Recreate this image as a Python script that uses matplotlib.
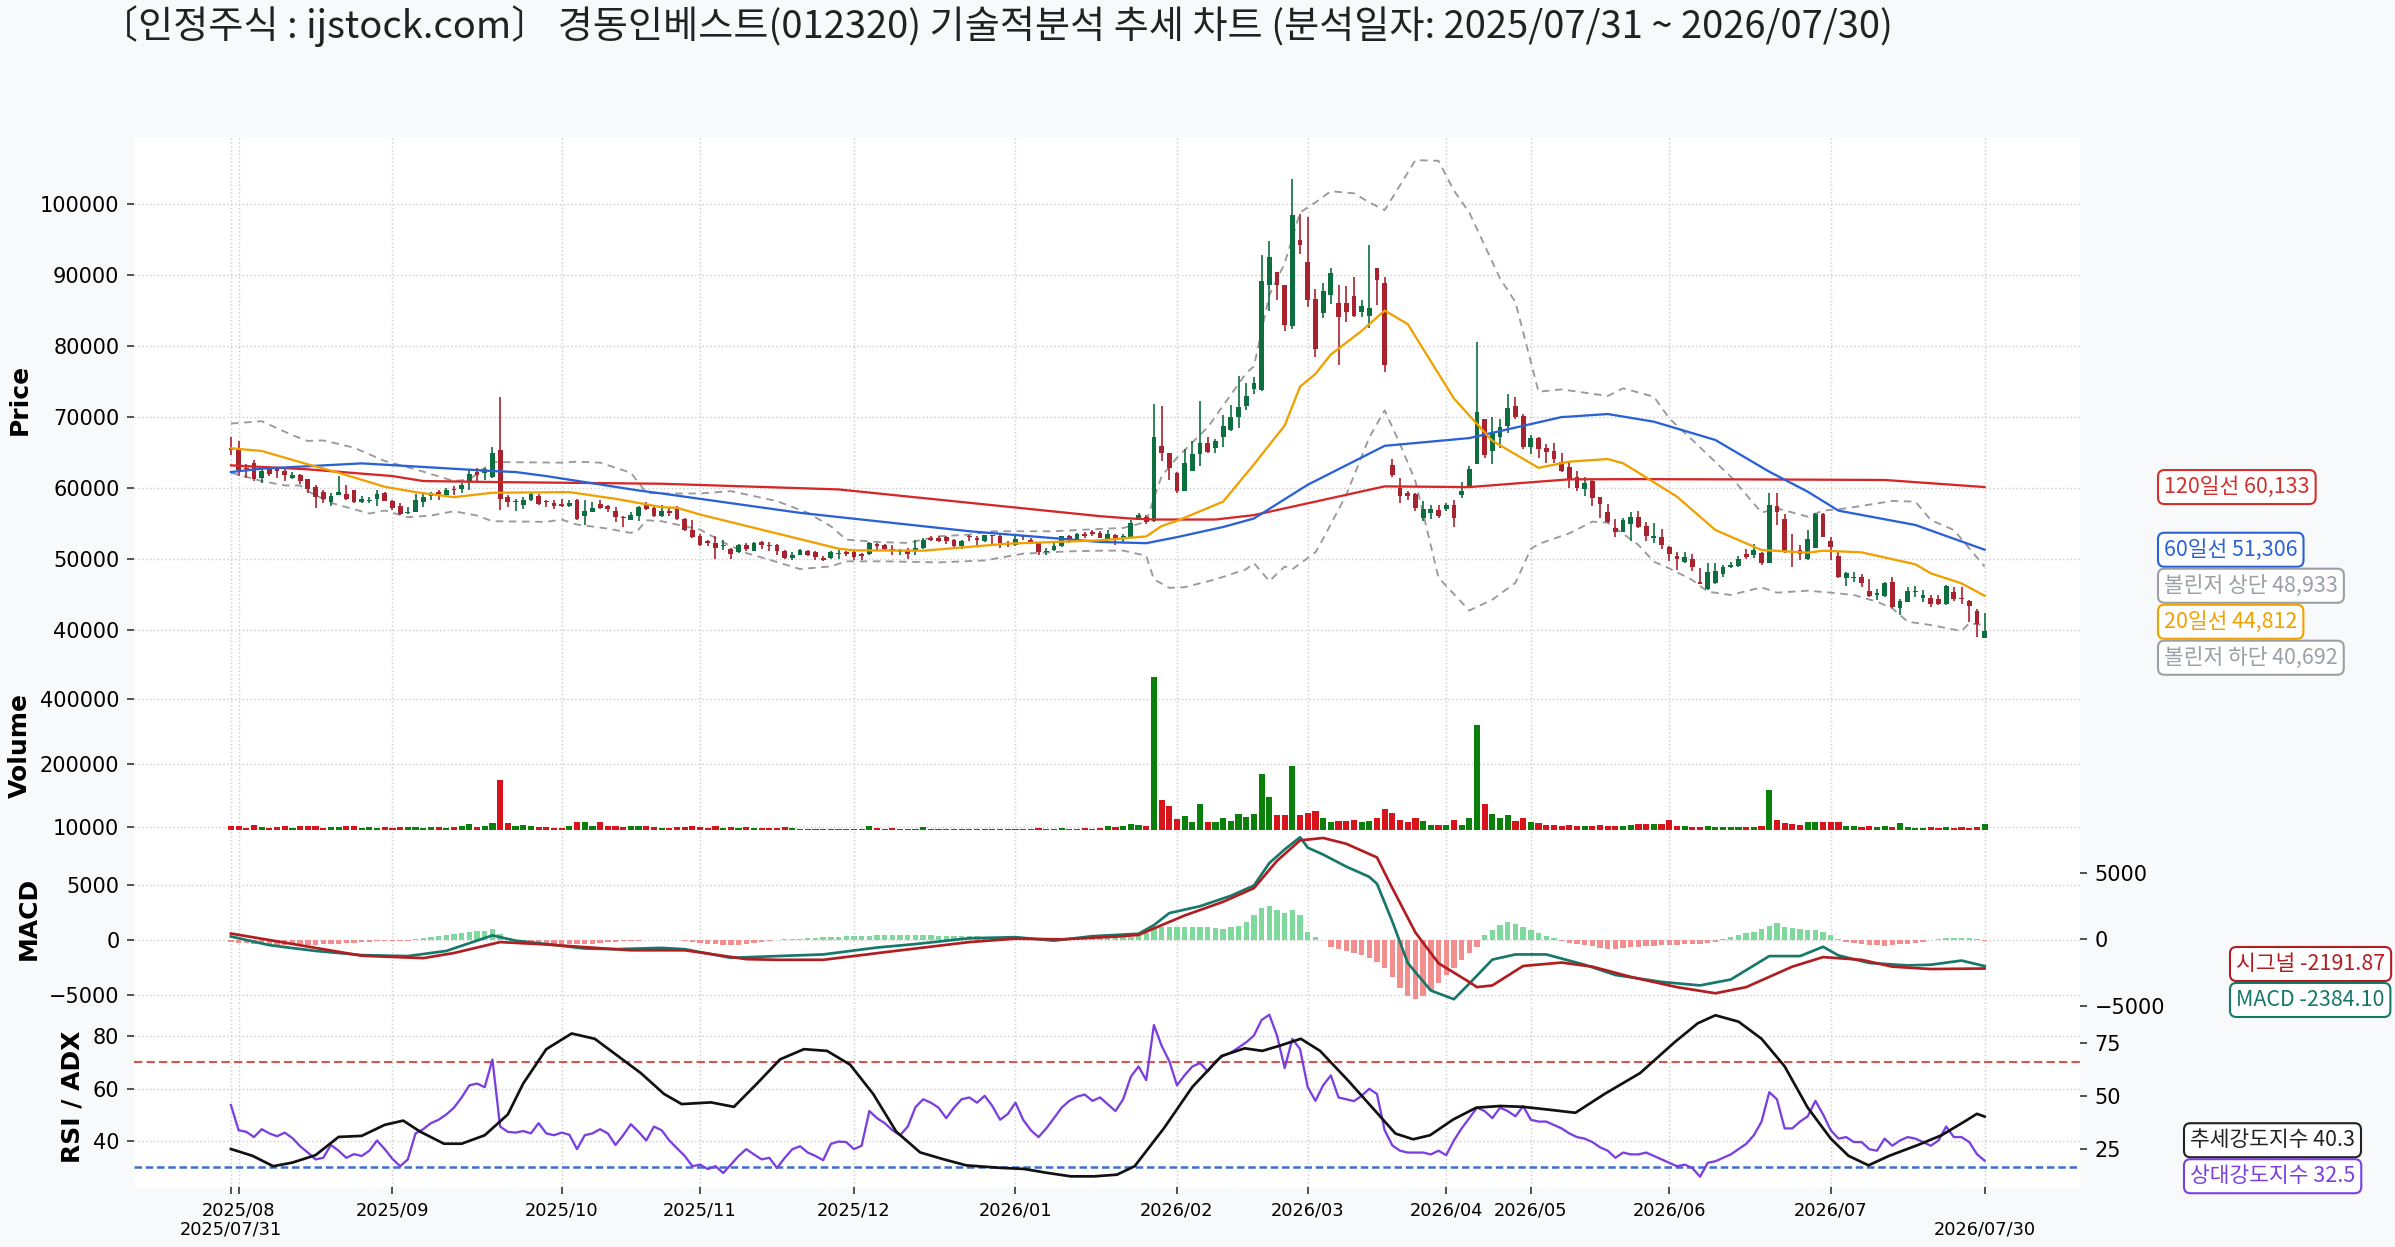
import matplotlib
matplotlib.use('Agg')
import matplotlib.pyplot as plt
import numpy as np

plt.rcParams['font.family'] = ['DejaVu Sans']
KFONT = ['Noto Sans CJK KR', 'DejaVu Sans']

# ---------------- data ----------------
title = "〔인정주식 : ijstock.com〕 경동인베스트(012320) 기술적분석 추세 차트 (분석일자: 2025/07/31 ~ 2026/07/30)"

month_idx = [1, 21, 43, 61, 81, 102, 123, 140, 158, 169, 187, 208]
month_labels = ['2025/08', '2025/09', '2025/10', '2025/11', '2025/12', '2026/01',
                '2026/02', '2026/03', '2026/04', '2026/05', '2026/06', '2026/07']
edge_idx = [0, 228]
edge_labels = ['2025/07/31', '2026/07/30']

ohlc = [
(65690,67240,64600,65400),(65450,66630,61680,62530),(62860,63330,61450,62630),(63570,63900,60980,61310),
(61350,62630,60650,62390),(62860,63100,61680,62010),(62630,62860,61450,62390),(62390,62630,60980,61820),
(61400,62250,61310,61780),(61780,62010,60500,60930),(61210,61310,59330,59800),(60170,60360,57210,58760),
(59470,59660,57910,58520),(58010,59330,57440,58850),(59000,61680,59000,59470),(59090,60360,58380,58520),
(59660,59660,57820,58050),(58050,58850,57910,58520),(58190,58710,57820,58380),(58520,59660,57440,59090),
(59330,59470,58150,58150),(58150,58380,56970,57210),(57440,57910,56260,56360),(56500,57350,56360,56690),
(56640,59090,56640,58380),(58050,59330,57350,58760),(58850,59420,58290,59330),(59470,59700,58290,59090),
(59000,60030,58850,59660),(59890,60270,58950,59750),(59800,60650,59330,60460),(60830,62720,59660,62010),
(62250,62770,60980,61870),(62060,62860,61070,62720),(61590,65780,61450,64980),(65310,72760,56970,58520),
(58760,58950,57350,58010),(58050,58480,56730,58150),(57580,58760,57060,58380),(58290,59330,58150,59090),
(58850,59180,57540,57770),(58150,58290,57350,58010),(57820,58240,57110,57440),(57680,58480,57350,57440),
(57440,58290,57350,57820),(58380,58480,55460,55650),(56030,58290,54750,56830),(56590,58050,56590,57210),
(57680,58290,57060,57210),(57440,57540,56590,57060),(56830,57300,55230,55890),(55890,56030,54520,55740),
(55460,56640,55460,56170),(56030,57440,55320,57300),(57540,58010,56880,57060),(57210,57540,55930,56030),
(56120,57540,55930,56730),(56730,57300,56030,56500),(57350,57440,55560,55650),(55650,55790,53910,54140),
(54140,55460,52960,53110),(53200,53580,51790,51930),(52490,52730,51880,52260),(52260,53290,50040,51550),
(51790,52730,51310,52020),(51460,51550,50040,50750),(50940,52160,50840,51930),(51930,52260,51080,51460),
(51080,52350,51080,52260),(52350,52490,51460,52020),(51930,52350,51080,51790),(52020,52160,50610,51080),
(51170,51310,49990,50140),(50140,50940,49900,50610),(50610,51410,50510,51220),(51170,51310,50370,50610),
(50980,51080,49900,50230),(50140,50370,49760,49900),(50140,51080,50040,50940),(50700,51310,50040,50840),
(50940,51170,50370,50750),(50940,51220,49900,50280),(50700,50840,49900,50470),(50750,52350,50510,52260),
(52120,52260,51310,51790),(51930,52160,51310,51460),(51460,51930,50510,51170),(50980,51410,50510,51170),
(51170,51550,50040,50750),(51310,52730,50510,51550),(51550,52960,51460,52730),(52960,53200,52490,52730),
(52960,53200,52350,52590),(53060,53200,52160,52490),(52730,52820,51690,51790),(51790,52730,51460,52490),
(53290,53430,52490,53060),(52960,53200,52020,52730),(52490,53430,52400,53340),(53340,53430,52160,53200),
(53200,53430,51550,52260),(52260,52490,51690,51930),(51930,53430,51790,52820),(53200,53430,52730,53060),
(52730,52960,52160,52400),(52260,52400,50510,50940),(51030,51550,50510,51170),(51310,52400,51170,51790),
(51790,53290,51690,53200),(53200,53430,52260,52820),(52820,53670,52730,53530),(53580,53760,52960,53290),
(53810,54050,53200,53580),(53700,53900,52900,52940),(52840,54030,52610,53460),(53320,53460,51990,52840),
(52940,53560,52460,53220),(53080,55460,52990,55080),(55560,56420,55460,56180),(55940,56180,54990,55220),
(55320,71800,55220,67130),(65940,71510,63800,64890),(64890,64990,61180,62750),(62130,62270,59270,59610),
(59610,65460,59510,63560),(62460,66650,62370,64750),(64750,72270,63080,66270),(66270,67220,64890,65130),
(65700,66890,64990,66560),(67220,70220,65800,68800),(68180,71650,67990,69990),(69990,75800,68460,71420),
(71510,74750,71030,72940),(73890,75610,73220,74750),(73800,92840,73700,89130),(88650,94840,84990,92600),
(90370,90460,86420,88560),(88650,88650,82130,82940),(82840,103560,82460,98460),(94990,98560,92940,94270),
(91890,98180,85460,86420),(86560,88080,78460,79610),(84650,88940,83940,87700),(87130,91030,85940,90230),
(86030,88560,77370,84030),(86030,88460,83320,84840),(87030,89750,84030,84180),(84840,86420,84030,85610),
(84180,94270,82510,85370),(90940,91030,85800,89270),(88940,89750,76270,77370),(63220,64030,61510,61890),
(59990,61420,57840,58940),(59270,59610,58320,58940),(59130,59270,56750,57130),(55800,58180,55320,57030),
(56510,57610,55700,56990),(56890,57610,55840,56080),(57030,57840,56750,57610),(57610,58320,54510,55800),
(59030,60840,58560,59510),(60220,63080,60130,62610),(63420,80560,63320,70700),(69650,69750,64180,64650),
(65220,69990,63420,67840),(67220,69750,65700,68650),(68800,73230,67700,71270),(71510,72750,69650,69990),
(70080,70460,65460,65800),(65800,67510,64840,67030),(66990,67130,64180,65460),(65680,66200,63470,65120),
(65210,66380,63470,64080),(63710,64980,62210,62390),(62910,63710,59950,61130),(61600,62390,59630,60050),
(59810,61600,58920,60660),(60990,61130,57460,58640),(58690,58780,55730,57750),(56670,57750,55120,55260),
(54320,55590,53050,53760),(53850,55730,53760,55490),(54930,56570,52580,55960),(55960,56760,54320,54550),
(54650,55260,52580,53240),(52910,55120,52300,53240),(53050,54180,51360,51970),(51740,51830,49760,50660),
(50420,51030,48450,49950),(49620,51030,49390,50230),(49950,50660,48360,48920),(46810,48780,46480,46480),
(45730,49390,45630,48220),(46570,49390,46480,48360),(47890,49150,47420,48920),(48830,49620,48680,49150),
(49060,50420,48920,50000),(50700,51360,49950,50330),(50560,52070,50090,51270),(50800,51030,49150,49390),
(49480,59250,49390,57610),(57460,59250,54790,56570),(55630,56340,50800,51170),(51170,53470,48920,51030),
(51270,51970,49860,50700),(49950,54080,49860,52770),(51600,56530,51500,56290),(56290,56530,53050,53140),
(52580,53140,49860,51740),(50420,51030,47280,47420),(47280,48220,46200,47980),(47280,48220,46810,47510),
(47420,47890,46010,46570),(45490,47140,44690,44840),(44930,45730,44220,45260),(44840,46810,44690,46570),
(46810,47510,43050,43190),(43050,44370,42110,44130),(43990,46010,43900,45540),(45310,46240,44600,45490),
(44460,45630,43990,44930),(44460,44930,43190,43660),(44320,44930,43520,43660),(43660,46290,43570,46200),
(45400,46010,44130,44320),(44550,46010,43610,44320),(44080,44220,41170,43430),(42720,42910,38970,40840),
(38920,42440,38920,39860),
]

volume = [
14000,14000,6000,17000,11000,6000,11000,13000,6000,13000,
14000,14000,6000,11000,11000,14000,14000,6000,11000,6000,
11000,6000,9000,11000,11000,6000,9000,11000,6000,11000,
14000,18000,11000,14000,22000,153000,22000,14000,17000,14000,
11000,9000,8000,8000,12000,26000,26000,14000,26000,14000,
12000,11000,12000,13000,12000,11000,8000,6000,9000,10000,
12000,10000,8000,14000,8000,10000,7000,9000,8000,7000,
6000,8000,9000,7000,5000,4000,5000,4000,4000,5000,
4000,5000,4000,13000,6000,5000,8000,4000,5000,4000,
9000,5000,4000,4000,5000,4000,3000,4000,5000,3000,
4000,4000,5000,3000,4000,6000,4000,5000,6000,4000,
5000,6000,5000,8000,12000,10000,12000,18000,16000,14000,
464000,92000,73000,35000,44000,26000,81000,26000,26000,38000,
28000,49000,41000,49000,172000,101000,47000,47000,195000,47000,
52000,58000,36000,26000,28000,28000,31000,26000,28000,38000,
65000,54000,31000,26000,36000,28000,16000,17000,16000,31000,
16000,38000,320000,79000,49000,38000,45000,28000,38000,26000,
21000,17000,15000,14000,15000,13000,12000,14000,15000,13000,
13000,12000,15000,20000,20000,20000,20000,30000,14000,12000,
11000,10000,12000,11000,10000,9000,10000,9000,11000,12000,
123000,31000,22000,20000,17000,26000,24000,24000,26000,26000,
12000,12000,11000,12000,11000,12000,10000,22000,9000,8000,
8000,9000,8000,9000,8000,9000,8000,9000,18000,
]

ma20_idx = [0,4,10,14,20,24,29,34,44,50,56,58,61,79,81,90,101,113,119,121,123,129,133,137,139,141,143,147,150,153,159,161,164,170,174,179,181,183,188,193,199,205,207,212,219,221,225,228]
ma20_val = [65590,65220,63330,62150,60170,59420,58710,59330,59420,58480,57300,57210,56260,51460,51220,51170,52160,52630,53180,54650,55370,58080,63320,68800,74270,76080,78800,82130,84990,83080,72610,70220,66650,62840,63710,64080,63470,62160,58780,54080,51270,50890,51170,50940,49250,47980,46570,44812]

ma60_idx = [0,4,17,20,34,37,41,53,56,74,96,113,119,123,129,133,140,150,161,173,174,179,185,193,200,205,209,219,228]
ma60_val = [62250,62720,63470,63280,62390,62250,61680,59650,59230,56500,53910,52400,52230,53080,54510,55700,60460,65940,67030,69990,70050,70420,69340,66760,62300,59480,56810,54790,51306]

ma120_idx = [0,10,21,25,35,56,79,113,117,120,128,133,150,161,170,174,183,200,215,228]
ma120_val = [63190,62630,61680,60980,60830,60600,59800,56030,55700,55560,55560,56180,60230,60130,60890,61220,61250,61200,61130,60133]

bbu_idx = [0,4,8,10,12,16,20,24,29,31,34,43,45,48,52,54,56,61,65,71,75,78,80,84,88,92,96,99,107,113,116,119,120,121,123,127,132,133,135,137,139,141,143,146,148,150,154,157,159,161,165,167,170,173,179,181,185,187,190,195,199,201,205,207,210,216,219,221,224,226,228]
bbu_val = [69080,69410,67430,66630,66700,65690,63800,62630,60980,61200,63660,63570,63710,63570,62150,59330,59230,59230,59560,58150,56500,54610,52730,52400,52260,53200,53430,53910,53910,54240,54370,55220,58560,61650,64270,68560,76180,77130,87130,91650,98800,100230,101800,101510,100230,99130,106180,106080,101890,98800,89510,86180,73560,73890,72960,74040,72860,69810,66760,61600,56530,57140,55960,56810,57140,58170,58080,55490,54080,51500,48933]

bbl_idx = [0,4,7,9,10,13,18,20,23,26,29,32,34,41,43,45,49,52,53,54,56,61,64,67,70,74,78,80,85,92,98,103,109,113,116,119,120,122,124,128,132,133,135,137,138,141,142,145,148,150,152,154,157,161,164,167,169,170,174,177,179,183,185,187,190,192,195,199,201,205,208,211,214,216,218,221,225,226,228]
bbl_val = [62150,60980,60360,60360,59560,57910,56400,56830,55890,56120,56730,56120,55320,55230,55560,54850,54280,53670,54140,55460,55320,54140,52350,50840,49900,48580,48960,49670,49670,49520,49800,50750,51080,51170,51180,50460,47130,45940,46030,47130,48560,49420,46890,48940,48560,50940,52840,59030,67130,70940,66180,60940,47370,42750,44270,46650,51420,52110,53610,55260,55120,51970,49620,48680,47040,45400,44930,46010,45260,45540,45260,44930,43990,43050,41170,40700,39860,40940,40692]

macd_idx = [0,5,11,17,23,28,34,37,41,46,50,56,59,65,71,77,84,89,96,102,107,112,118,120,122,126,130,133,135,137,139,140,142,145,148,149,151,153,156,159,161,164,167,171,176,180,186,191,195,200,204,207,209,213,218,221,225,228]
macd_val = [320,-470,-1000,-1380,-1470,-1000,420,-60,-370,-780,-840,-720,-840,-1630,-1470,-1320,-690,-370,160,260,-60,350,570,1360,2460,3090,4040,4980,7030,8280,9390,8440,7810,6710,5770,5140,1680,-2100,-4620,-5410,-3990,-1790,-1320,-1320,-2260,-3200,-3830,-4150,-3610,-1470,-1470,-620,-1410,-2100,-2320,-2260,-1880,-2384.10]

signal_idx = [0,5,11,17,25,29,35,41,52,59,67,71,77,86,96,102,108,115,118,124,129,133,136,139,142,145,149,151,154,157,161,162,164,168,173,177,182,188,193,197,203,207,212,216,221,228]
signal_val = [441,-48,-639,-1230,-1410,-1024,-202,-382,-819,-819,-1487,-1538,-1538,-895,-202,55,4,210,339,1803,2831,3859,5915,7457,7637,7200,6172,3859,518,-1795,-3209,-3594,-3466,-2001,-1744,-2052,-2823,-3594,-4056,-3594,-2052,-1332,-1538,-2052,-2232,-2191.87]

hist = [
-210,-260,-300,-350,-390,-420,-450,-470,-470,-460,
-450,-430,-400,-370,-330,-290,-250,-200,-160,-130,
-110,-90,-70,-50,80,170,260,380,470,530,
650,750,790,830,980,570,160,-60,-150,-200,
-250,-280,-320,-350,-370,-360,-340,-320,-270,-210,
-160,-120,-80,-50,-20,20,40,40,30,-100,
-200,-280,-370,-410,-450,-470,-440,-380,-280,-150,
-50,30,70,100,130,160,200,230,260,290,
320,350,380,410,420,420,420,420,420,420,
420,420,410,390,370,355,340,320,290,270,
260,250,240,220,200,180,150,120,100,120,
150,180,200,220,230,230,240,300,420,600,
1200,1200,1200,1200,1200,1200,1200,1150,1100,1050,
1150,1250,1600,2300,2900,3090,2700,2460,2780,2300,
730,260,40,-600,-850,-1000,-1200,-1400,-1600,-2000,
-2600,-3400,-4400,-5100,-5400,-5100,-4600,-3900,-3200,-2600,
-1800,-1200,-600,500,900,1360,1600,1500,1200,900,
600,400,150,-100,-250,-350,-450,-550,-700,-840,
-800,-700,-650,-600,-560,-530,-500,-470,-440,-400,
-370,-320,-250,-150,100,300,420,600,730,1000,
1300,1520,1200,1100,1050,950,890,700,420,100,
-150,-280,-360,-460,-500,-530,-480,-400,-350,-250,
-150,-40,120,160,170,160,150,100,-60,
]

rsi = [
53.7,44.1,43.5,41.5,44.5,42.9,41.8,43.2,41.1,38.0,
35.6,33.0,33.6,38.5,36.3,33.6,35.0,34.3,36.3,40.2,
36.9,33.2,30.4,33.0,42.9,44.5,46.8,48.1,50.1,52.7,
56.6,61.2,61.9,60.5,71.0,45.5,43.5,43.2,43.8,42.9,
46.8,42.9,42.2,43.2,42.4,36.9,42.2,42.9,44.5,42.9,
38.5,42.2,46.4,43.5,40.2,45.5,44.1,40.2,37.2,34.3,
30.4,31.0,29.3,30.4,27.8,31.0,34.3,36.9,34.9,33.0,
33.6,29.7,33.6,36.9,38.0,35.6,34.3,32.7,38.9,39.8,
39.6,36.9,38.2,51.4,48.7,46.8,44.1,42.2,45.5,52.9,
55.9,54.6,52.7,48.7,52.7,55.9,56.6,54.6,57.2,53.3,
48.1,50.3,54.6,48.1,44.1,41.5,44.8,48.7,52.7,55.3,
56.9,57.7,55.3,56.6,54.0,51.4,55.9,64.5,68.4,63.2,
84.2,76.3,70.4,61.2,65.1,68.4,69.7,66.5,70.4,72.4,
73.7,75.6,77.6,80.2,86.1,88.1,80.2,67.8,78.9,75.0,
60.5,55.3,61.2,65.0,56.6,55.9,55.2,57.2,59.9,57.9,
44.1,38.3,36.3,35.6,35.6,35.6,34.9,36.3,34.6,40.2,
44.8,48.7,52.7,51.4,48.7,52.7,51.4,49.4,53.3,48.1,
47.4,47.4,46.1,44.8,42.9,41.5,40.9,39.6,37.6,36.3,
33.6,35.6,34.9,34.9,35.6,34.3,33.0,31.7,30.4,31.0,
29.7,26.4,31.7,32.3,33.6,34.9,36.9,38.9,42.2,47.4,
58.6,55.9,44.8,44.8,47.4,49.4,55.3,50.1,44.1,40.9,
41.5,39.6,39.6,36.9,36.3,40.9,38.2,40.2,41.5,40.9,
39.6,38.2,40.2,45.5,41.5,41.5,39.6,35.0,32.5,
]

adx_idx = [0,2.8,5.5,8,11,14,17,20,22.4,24.6,27.7,30,33,36,38,41,44.3,47.3,50.3,53.3,56.3,58.6,62.4,65.4,68.4,71.4,74.5,77.5,80.5,83.5,86.5,89.6,92.6,95.6,100.1,103.1,106.2,109.2,112.2,115.2,117.5,121.3,125,128.8,131.8,134.1,136.4,139.1,141.6,145.4,148.4,151.4,153.7,155.9,158.9,161.9,165,168,171,174.8,178.6,183.2,187.7,190.7,193,196,199,202,205,208,210.3,212.9,215.6,219.4,222.4,225.4,227,228]
adx_val = [25.0,21.8,16.9,18.6,22.1,30.7,31.2,36.4,38.4,33.2,27.5,27.5,31.5,41.3,55.9,72.1,79.5,77.0,68.9,60.8,51.0,46.2,47.0,44.9,55.9,67.3,72.1,71.3,64.8,51.0,33.2,23.4,20.2,17.3,16.1,15.6,13.7,12.1,12.1,12.9,16.9,34.8,54.3,68.9,72.5,71.3,73.8,77.0,71.3,56.7,44.5,32.3,29.6,31.5,38.9,44.5,45.3,44.9,43.7,42.1,51.0,60.8,75.4,84.3,88.1,85.1,77.0,64.0,44.5,29.9,21.8,17.3,21.8,27.0,31.5,38.0,41.6,40.3]

# ---------------- style ----------------
BG = '#f8f9fb'
UP, DN = '#0d6e3f', '#a8232e'
VUP, VDN = '#0a800a', '#d7141c'
C20, C60, C120, CBB = '#f0a000', '#2a62d6', '#d62728', '#9a9a9a'
CMACD, CSIG = '#17786a', '#b01e22'
CHP, CHN = '#7fd99c', '#f28e8e'
CRSI, CADX = '#7b3fe0', '#111111'

W, H = 2395, 1247
DPI = 150
fig = plt.figure(figsize=(W / DPI, H / DPI), dpi=DPI, facecolor=BG)
XL, XR = 134, 2080

def rect(top, bot):
    return [XL / W, 1 - bot / H, (XR - XL) / W, (bot - top) / H]

ax_p = fig.add_axes(rect(137, 661))
ax_v = fig.add_axes(rect(661, 830.3), sharex=ax_p)
ax_m = fig.add_axes(rect(830.3, 1007), sharex=ax_p)
ax_r = fig.add_axes(rect(1007, 1187), sharex=ax_p)
ax_m2 = ax_m.twinx()
ax_r2 = ax_r.twinx()

n = len(ohlc)
x = np.arange(n)
o = np.array([r[0] for r in ohlc], float)
hi = np.array([r[1] for r in ohlc], float)
lo = np.array([r[2] for r in ohlc], float)
c = np.array([r[3] for r in ohlc], float)
up = c >= o

grid_kw = dict(color='#cfcfcf', linestyle=':', linewidth=0.7)

for ax in (ax_p, ax_v, ax_m, ax_r):
    ax.set_facecolor('white')
    for s in ax.spines.values():
        s.set_visible(False)
    ax.grid(True, which='both', **grid_kw)
    ax.set_axisbelow(True)
    ax.tick_params(axis='y', labelsize=10, colors='#333333', labelcolor='black', length=3.5, width=0.8)
for ax in (ax_m2, ax_r2):
    ax.patch.set_visible(False)
    for s in ax.spines.values():
        s.set_visible(False)
    ax.tick_params(axis='y', labelsize=10, colors='#333333', labelcolor='black', length=3.5, width=0.8)

# ---- price ----
ax_p.vlines(x, lo, hi, colors=np.where(up, UP, DN), linewidth=0.8, zorder=3)
body_h = np.maximum(np.abs(c - o), 120)
ax_p.bar(x, body_h, bottom=np.minimum(o, c), width=0.62, color=np.where(up, UP, DN), zorder=4, linewidth=0)
ax_p.plot(bbu_idx, bbu_val, color=CBB, lw=0.9, ls=(0, (4, 3)), zorder=2)
ax_p.plot(bbl_idx, bbl_val, color=CBB, lw=0.9, ls=(0, (4, 3)), zorder=2)
ax_p.plot(ma120_idx, ma120_val, color=C120, lw=1.1, zorder=5)
ax_p.plot(ma60_idx, ma60_val, color=C60, lw=1.1, zorder=5)
ax_p.plot(ma20_idx, ma20_val, color=C20, lw=1.1, zorder=5)
ax_p.set_ylim(35634, 109437)
ax_p.set_yticks(np.arange(40000, 100001, 10000))
ax_p.set_ylabel('Price', fontsize=12, fontweight='bold')

# ---- volume ----
ax_v.bar(x, volume, width=0.8, color=np.where(up, VUP, VDN), linewidth=0, zorder=3)
ax_v.set_ylim(0, 514000)
ax_v.set_yticks([10000, 200000, 400000])
ax_v.ticklabel_format(axis='y', style='plain', useOffset=False)
ax_v.set_ylabel('Volume', fontsize=12, fontweight='bold')

# ---- MACD ----
hist_a = np.array(hist, float)
ax_m.bar(x, hist_a, width=0.7, color=np.where(hist_a >= 0, CHP, CHN), linewidth=0, zorder=2)
ax_m.plot(macd_idx, macd_val, color=CMACD, lw=1.3, zorder=4)
ax_m2.plot(signal_idx, signal_val, color=CSIG, lw=1.3, zorder=4)
ax_m.set_ylim(-6124, 10027)
ax_m.set_yticks([-5000, 0, 5000])
ax_m2.set_ylim(-5090, 8215)
ax_m2.set_yticks([-5000, 0, 5000])
ax_m.set_ylabel('MACD', fontsize=12, fontweight='bold')

# ---- RSI / ADX ----
ax_r.plot(x, rsi, color=CRSI, lw=1.1, zorder=3)
ax_r.axhline(70, color='#d9534f', lw=1.0, ls=(0, (4, 2)), zorder=2)
ax_r.axhline(30, color='#3b6fd4', lw=1.2, ls=(0, (3, 1.5)), zorder=2)
ax_r2.plot(adx_idx, adx_val, color=CADX, lw=1.3, zorder=4)
ax_r.set_ylim(22.48, 91.05)
ax_r.set_yticks([40, 60, 80])
ax_r2.set_ylim(7.08, 92.0)
ax_r2.set_yticks([25, 50, 75])
ax_r.set_ylabel('RSI / ADX', fontsize=12, fontweight='bold')

# ---- x axis ----
ax_p.set_xlim(-12.6, 240.4)
ax_r.set_xticks(month_idx)
ax_r.set_xticklabels(month_labels)
ax_r.set_xticks(edge_idx, minor=True)
ax_r.set_xticklabels(edge_labels, minor=True)
ax_r.tick_params(axis='x', which='major', labelsize=8.5, length=3.5, width=0.8, colors='#333333', labelcolor='black', pad=3.5)
ax_r.tick_params(axis='x', which='minor', labelsize=8.5, length=3.5, width=0.8, colors='#333333', labelcolor='black', pad=12.5)
for ax in (ax_p, ax_v, ax_m):
    ax.tick_params(axis='x', which='both', labelbottom=False, length=0)
ax_m2.tick_params(axis='x', which='both', length=0)
ax_r2.tick_params(axis='x', which='both', length=0)

# ---- title ----
fig.text(100 / W, 1 - 26 / H, title, fontsize=18.3, family=KFONT, ha='left', va='center', color='#222222')

# ---- value labels ----
GAP = 36

def place(ax, items, xpx):
    ys = [ax.transData.transform((0, v))[1] for v, _, _ in items]
    order = sorted(range(len(items)), key=lambda i: -items[i][0])
    prev = None
    pos = {}
    for i in order:
        y = ys[i]
        if prev is not None and prev - y < GAP:
            y = prev - GAP
        pos[i] = y
        prev = y
    for i, (v, txt, col) in enumerate(items):
        fig.text(xpx / W, pos[i] / H, txt, fontsize=10.3, family=KFONT, color=col,
                 ha='left', va='center',
                 bbox=dict(boxstyle='round,pad=0.28,rounding_size=0.3', fc='white', ec=col, lw=1.0))

place(ax_p, [(60133, '120일선 60,133', '#d32f2f'),
             (51306, '60일선 51,306', '#2a62d6'),
             (48933, '볼린저 상단 48,933', '#9aa0a6'),
             (44812, '20일선 44,812', '#f0a000'),
             (40692, '볼린저 하단 40,692', '#9aa0a6')], 2164)
place(ax_m, [(-2191.87, '시그널 -2191.87', '#b01e22'),
             (-2384.10, 'MACD -2384.10', '#17786a')], 2236)
place(ax_r, [(40.3, '추세강도지수 40.3', '#222222'),
             (32.5, '상대강도지수 32.5', '#7b3fe0')], 2190)

fig.savefig('out.png', dpi=DPI, facecolor=BG)
